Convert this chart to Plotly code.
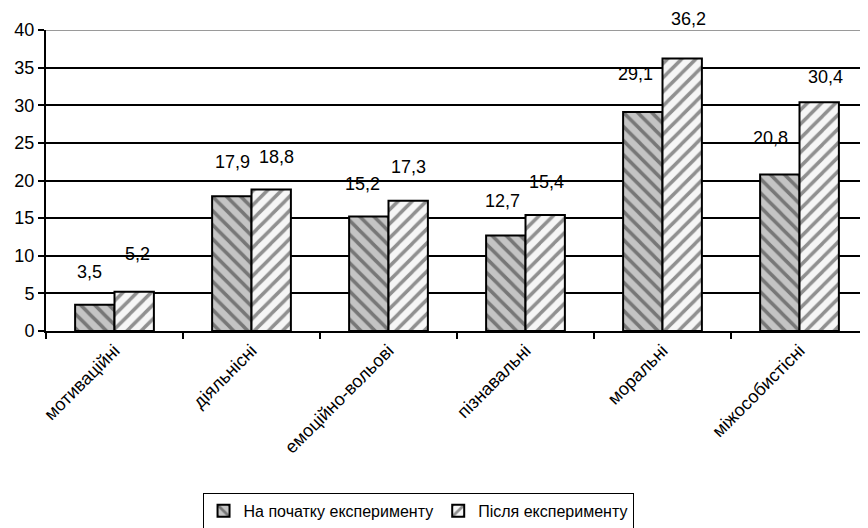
import plotly.graph_objects as go

categories = ["мотиваційні", "діяльнісні", "емоційно-вольові", "пізнавальні", "моральні", "міжособистісні"]
before_vals = [3.5, 17.9, 15.2, 12.7, 29.1, 20.8]
after_vals = [5.2, 18.8, 17.3, 15.4, 36.2, 30.4]
before_labels = ["3,5", "17,9", "15,2", "12,7", "29,1", "20,8"]
after_labels = ["5,2", "18,8", "17,3", "15,4", "36,2", "30,4"]
series_names = ["На початку експерименту", "Після експерименту"]
y_ticks = [0, 5, 10, 15, 20, 25, 30, 35, 40]

# label nudges (pixels) imitating the hand-placed labels of the original
before_dx = [-5, 1, -6, -3, -7, -9]
before_dy = [33, 34, 33, 34, 38, 36]
after_dx = [3, 5, 0, 1, 6, 6]
after_dy = [38, 33, 34, 33, 40, 25]

FONT = "Liberation Sans, Arial, sans-serif"
bargap = 0.425
half = (1 - bargap) / 4

fig = go.Figure()
fig.add_trace(go.Bar(
    x=categories, y=before_vals, name=series_names[0],
    marker=dict(color="#c4c4c4", line=dict(color="black", width=2),
                pattern=dict(shape="\\", fgcolor="#2a2a2a", bgcolor="#c4c4c4",
                             size=10, solidity=0.35, fillmode="overlay")),
))
fig.add_trace(go.Bar(
    x=categories, y=after_vals, name=series_names[1],
    marker=dict(color="#f6f6f6", line=dict(color="black", width=2),
                pattern=dict(shape="/", fgcolor="#2a2a2a", bgcolor="#f6f6f6",
                             size=10, solidity=0.35, fillmode="overlay")),
))

annotations = []
for i in range(len(categories)):
    annotations.append(dict(x=i - half, y=before_vals[i], xref="x", yref="y",
                            text=before_labels[i], showarrow=False,
                            xshift=before_dx[i], yshift=before_dy[i],
                            font=dict(family=FONT, size=18, color="black")))
    annotations.append(dict(x=i + half, y=after_vals[i], xref="x", yref="y",
                            text=after_labels[i], showarrow=False,
                            xshift=after_dx[i], yshift=after_dy[i],
                            font=dict(family=FONT, size=18, color="black")))

fig.update_layout(
    width=868, height=528,
    margin=dict(l=38, r=8, t=22, b=205, autoexpand=False),
    paper_bgcolor="white", plot_bgcolor="white",
    barmode="group", bargap=bargap, bargroupgap=0,
    font=dict(family=FONT, size=18, color="black"),
    showlegend=True,
    legend=dict(orientation="h", x=0.4526, xanchor="center", y=-0.538, yanchor="top",
                bordercolor="black", borderwidth=1, bgcolor="white",
                font=dict(family=FONT, size=16, color="black"),
                itemwidth=30, tracegroupgap=0),
    annotations=annotations,
    shapes=[dict(type="line", xref="paper", yref="y", x0=0, x1=1, y0=40, y1=40,
                 line=dict(color="#9a9a9a", width=2), layer="below")],
)
fig.update_yaxes(range=[0, 40], tickvals=y_ticks, showgrid=True, gridcolor="black", gridwidth=2,
                 showline=True, linecolor="black", linewidth=2, ticks="outside",
                 ticklen=6, tickwidth=2, tickcolor="black", zeroline=False, automargin=False,
                 tickfont=dict(family=FONT, size=18, color="black"))
fig.update_xaxes(type="category", tickson="boundaries", ticks="outside", ticklen=6,
                 tickwidth=2, tickcolor="black", showline=True, linecolor="black",
                 linewidth=2, showgrid=False, tickangle=-45, automargin=False,
                 tickfont=dict(family=FONT, size=18, color="black"))

fig.write_html("out.html")
